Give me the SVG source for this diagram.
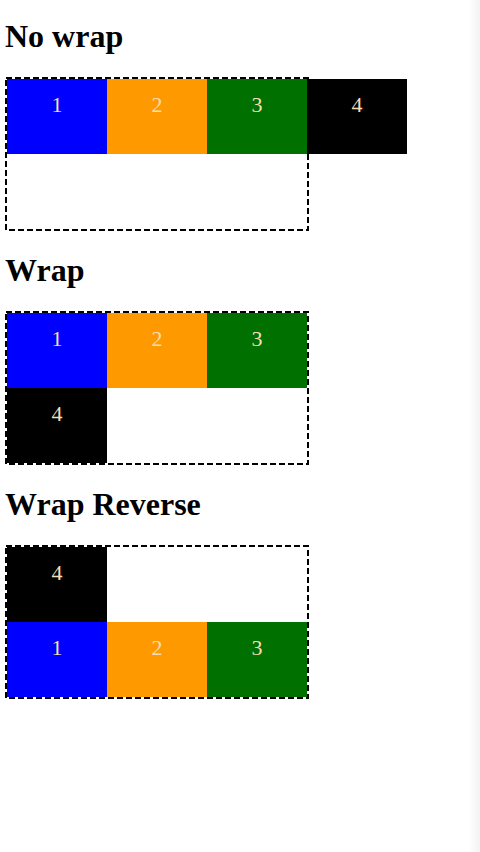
<svg xmlns="http://www.w3.org/2000/svg" width="480" height="852" viewBox="0 0 480 852">
  <defs>
    <linearGradient id="sb" x1="0" y1="0" x2="1" y2="0">
      <stop offset="0" stop-color="#ffffff"/>
      <stop offset="1" stop-color="#f3f3f3"/>
    </linearGradient>
  </defs>
  <style>
    .h { font-family: "Liberation Serif", "Times New Roman", serif; font-weight: bold; font-size: 32px; fill: #000; }
    .n { font-family: "Liberation Serif", "Times New Roman", serif; font-size: 22px; fill: #f5deb3; text-anchor: middle; }
    .box { fill: none; stroke: #000; stroke-width: 2; stroke-dasharray: 6 3; }
    .b1 { fill: #0000ff; }
    .b2 { fill: #ff9900; }
    .b3 { fill: #007000; }
    .b4 { fill: #000000; }
  </style>
  <rect width="480" height="852" fill="#ffffff"/>
  <rect x="468" y="0" width="12" height="852" fill="url(#sb)"/>

  <g id="section-nowrap">
    <text class="h" x="5" y="47">No wrap</text>
    <g id="nowrap-item1"><rect class="b1" x="7" y="79" width="100" height="75"/><text class="n" x="57" y="111.5">1</text></g>
    <g id="nowrap-item2"><rect class="b2" x="107" y="79" width="100" height="75"/><text class="n" x="157" y="111.5">2</text></g>
    <g id="nowrap-item3"><rect class="b3" x="207" y="79" width="100" height="75"/><text class="n" x="257" y="111.5">3</text></g>
    <g id="nowrap-item4"><rect class="b4" x="307" y="79" width="100" height="75"/><text class="n" x="357" y="111.5">4</text></g>
    <rect id="nowrap-container" class="box" x="6" y="78" width="302" height="152"/>
  </g>

  <g id="section-wrap">
    <text class="h" x="5" y="281">Wrap</text>
    <g id="wrap-item1"><rect class="b1" x="7" y="313" width="100" height="75"/><text class="n" x="57" y="345.5">1</text></g>
    <g id="wrap-item2"><rect class="b2" x="107" y="313" width="100" height="75"/><text class="n" x="157" y="345.5">2</text></g>
    <g id="wrap-item3"><rect class="b3" x="207" y="313" width="100" height="75"/><text class="n" x="257" y="345.5">3</text></g>
    <g id="wrap-item4"><rect class="b4" x="7" y="388" width="100" height="75"/><text class="n" x="57" y="420.5">4</text></g>
    <rect id="wrap-container" class="box" x="6" y="312" width="302" height="152"/>
  </g>

  <g id="section-wrap-reverse">
    <text class="h" x="5" y="515">Wrap Reverse</text>
    <g id="rev-item4"><rect class="b4" x="7" y="547" width="100" height="75"/><text class="n" x="57" y="579.5">4</text></g>
    <g id="rev-item1"><rect class="b1" x="7" y="622" width="100" height="75"/><text class="n" x="57" y="654.5">1</text></g>
    <g id="rev-item2"><rect class="b2" x="107" y="622" width="100" height="75"/><text class="n" x="157" y="654.5">2</text></g>
    <g id="rev-item3"><rect class="b3" x="207" y="622" width="100" height="75"/><text class="n" x="257" y="654.5">3</text></g>
    <rect id="rev-container" class="box" x="6" y="546" width="302" height="152"/>
  </g>

  <g id="connectors"></g>
</svg>
